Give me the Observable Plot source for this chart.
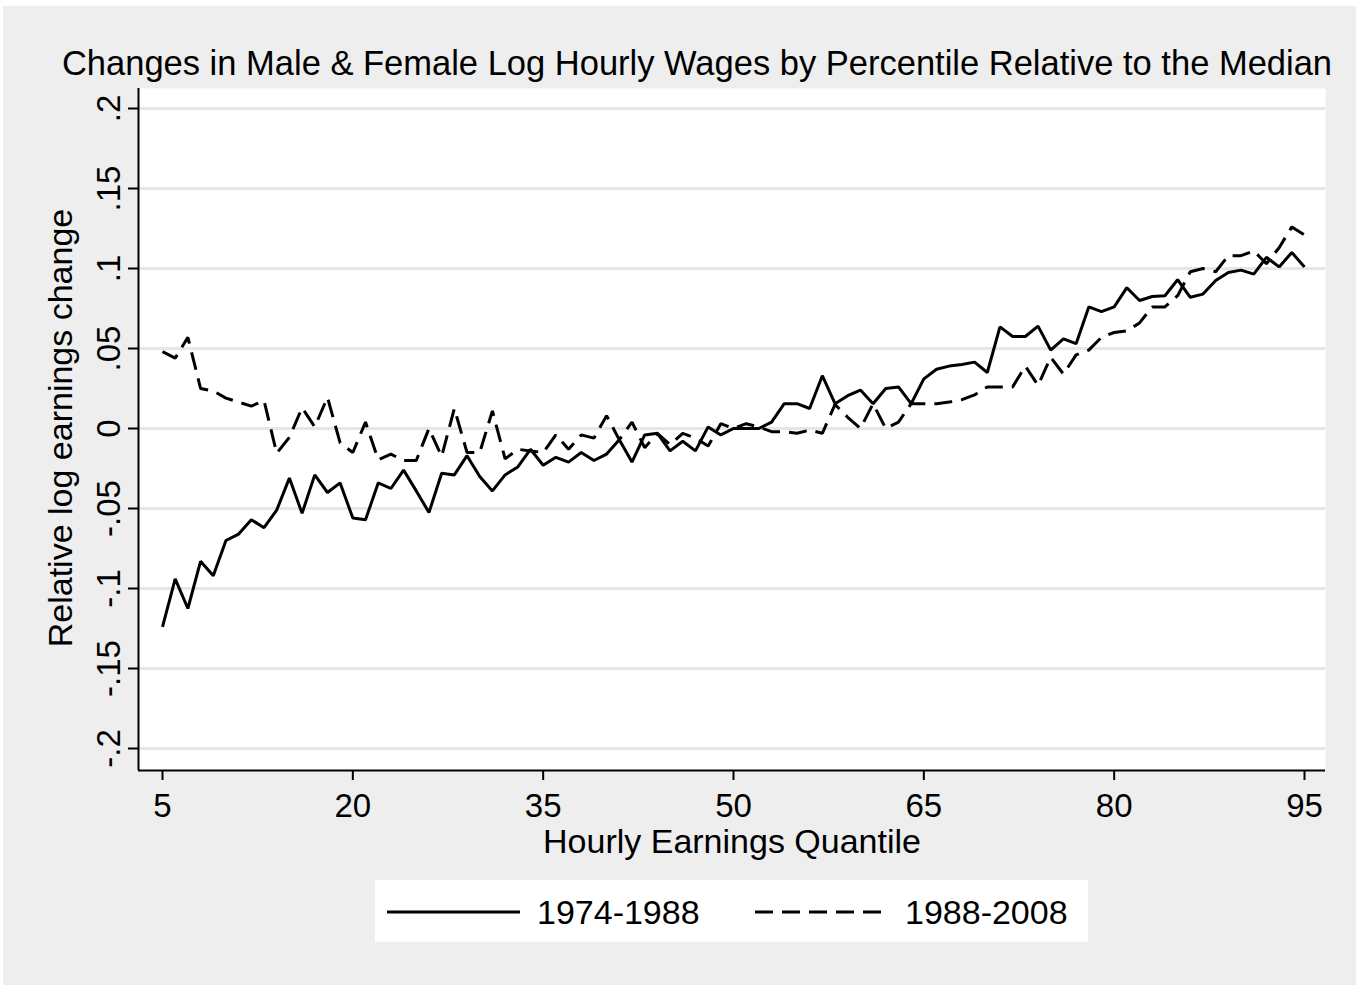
<!DOCTYPE html>
<html>
<head>
<meta charset="utf-8">
<script src="https://cdn.jsdelivr.net/npm/d3@7"></script>
<script src="https://cdn.jsdelivr.net/npm/@observablehq/plot@0.6"></script>
<style>
html,body{margin:0;padding:0;background:#fff;}
body{width:1359px;height:988px;position:relative;overflow:hidden;font-family:"Liberation Sans",Arial,Helvetica,sans-serif;}
#bg{position:absolute;left:3px;top:6px;width:1353px;height:979px;background:#eeeeee;}
#chart{position:absolute;left:0;top:0;}
.t{position:absolute;white-space:nowrap;color:#000;font-size:34px;line-height:34px;}
#legend{position:absolute;left:375px;top:880px;width:713px;height:62px;background:#fff;}
</style>
</head>
<body>
<div id="bg"></div>
<div id="chart"></div>
<div class="t" id="title" style="left:697px;top:46px;font-size:34.5px;transform:translateX(-50%);">Changes in Male &amp; Female Log Hourly Wages by Percentile Relative to the Median</div>
<div class="t" id="xtitle" style="left:732px;top:824px;transform:translateX(-50%);">Hourly Earnings Quantile</div>
<div class="t" id="ytitle" style="left:60px;top:428px;transform:translate(-50%,-50%) rotate(-90deg);">Relative log earnings change</div>
<div id="legend"></div>
<script>
// ---- data ----
const quantiles = [5,6,7,8,9,10,11,12,13,14,15,16,17,18,19,20,21,22,23,24,25,26,27,28,29,30,31,32,33,34,35,36,37,38,39,40,41,42,43,44,45,46,47,48,49,50,51,52,53,54,55,56,57,58,59,60,61,62,63,64,65,66,67,68,69,70,71,72,73,74,75,76,77,78,79,80,81,82,83,84,85,86,87,88,89,90,91,92,93,94,95];

const change1974_1988 = [
 -0.124,-0.094,-0.1125,-0.083,-0.092,-0.070,-0.066,-0.057,-0.062,-0.051,
 -0.031,-0.053,-0.029,-0.040,-0.034,-0.056,-0.057,-0.034,-0.0375,-0.026,
 -0.039,-0.0525,-0.028,-0.029,-0.017,-0.030,-0.039,-0.029,-0.024,-0.013,
 -0.023,-0.018,-0.021,-0.015,-0.020,-0.016,-0.007,-0.021,-0.004,-0.003,
 -0.014,-0.008,-0.014,0.001,-0.004,0.000,0.000,0.000,0.004,0.0155,
 0.0155,0.0125,0.033,0.0155,0.0205,0.024,0.0155,0.025,0.026,0.0155,
 0.031,0.037,0.039,0.040,0.0415,0.035,0.0635,0.0575,0.0575,0.064,
 0.049,0.056,0.053,0.076,0.073,0.076,0.088,0.080,0.0825,0.083,
 0.093,0.082,0.084,0.0925,0.0975,0.099,0.0965,0.107,0.101,0.110,
 0.101
];

const change1988_2008 = [
 0.048,0.044,0.057,0.025,0.0235,0.019,0.0165,0.014,0.0175,-0.0155,
 -0.0055,0.013,0.001,0.0195,-0.009,-0.015,0.004,-0.0195,-0.016,-0.020,
 -0.020,0.000,-0.0175,0.0125,-0.015,-0.015,0.011,-0.019,-0.013,-0.014,
 -0.015,-0.004,-0.013,-0.004,-0.006,0.008,-0.007,0.004,-0.012,-0.003,
 -0.010,-0.003,-0.006,-0.011,0.003,0.000,0.003,0.001,-0.002,-0.002,
 -0.003,-0.001,-0.003,0.015,0.007,0.000,0.0155,0.000,0.004,0.0155,
 0.0155,0.0155,0.0165,0.018,0.021,0.026,0.026,0.026,0.039,0.027,
 0.0445,0.034,0.046,0.049,0.057,0.060,0.061,0.066,0.076,0.076,
 0.083,0.098,0.100,0.098,0.108,0.108,0.111,0.103,0.113,0.126,
 0.121
];

const seriesNames = ["1974-1988", "1988-2008"];
const xTicks = [5, 20, 35, 50, 65, 80, 95];
const yTicks = [-0.2, -0.15, -0.1, -0.05, 0, 0.05, 0.1, 0.15, 0.2];

// ---- build ----
const rowsA = quantiles.map((q, i) => ({q, v: change1974_1988[i], s: seriesNames[0]}));
const rowsB = quantiles.map((q, i) => ({q, v: change1988_2008[i], s: seriesNames[1]}));

const fmt = d => d === 0 ? "0" : (d < 0 ? "-" : "") + String(Math.abs(d)).replace(/^0/, "");

const xDom = [5 - 24 / 12.689, 95 + 21 / 12.689];
const yDom = [-0.2 - 22 / 1600, 0.2 + 20 / 1600];
const FONT = "Liberation Sans, Arial, Helvetica, sans-serif";
const DASH = "18,9";

const chart = Plot.plot({
  width: 1359,
  height: 988,
  marginLeft: 138,
  marginRight: 34,
  marginTop: 88,
  marginBottom: 218,
  x: {domain: xDom},
  y: {domain: yDom},
  style: {background: "transparent", color: "#000", fontFamily: FONT},
  marks: [
    Plot.frame({fill: "white", stroke: null}),
    Plot.ruleY(yTicks, {stroke: "#e6e6e6", strokeWidth: 3}),
    Plot.line(rowsA, {x: "q", y: "v", stroke: "#000", strokeWidth: 3, strokeLinejoin: "miter", strokeLinecap: "butt"}),
    Plot.line(rowsB, {x: "q", y: "v", stroke: "#000", strokeWidth: 3, strokeDasharray: DASH, strokeLinejoin: "miter", strokeLinecap: "butt"}),
    Plot.ruleX([xDom[0]], {stroke: "#000", strokeWidth: 2}),
    Plot.ruleY([yDom[0]], {stroke: "#000", strokeWidth: 2}),
    Plot.axisX({ticks: xTicks, tickSize: 10, tickPadding: 13, fontSize: 33, label: null, tickFormat: d => String(d), strokeWidth: 2}),
    Plot.axisY({ticks: yTicks, tickSize: 10, tickPadding: 9, tickRotate: -90, fontSize: 33, label: null, tickFormat: fmt, strokeWidth: 2})
  ]
});
document.getElementById("chart").appendChild(chart);

// ---- legend ----
const lg = d3.select("#legend");
const lsvg = lg.append("svg").attr("width", 713).attr("height", 62).style("position", "absolute").style("left", "0px").style("top", "0px");
const items = [
  {name: seriesNames[0], x1: 12, x2: 145, tx: 162, dash: null},
  {name: seriesNames[1], x1: 380, x2: 510, tx: 530, dash: DASH}
];
items.forEach(it => {
  const l = lsvg.append("line").attr("x1", it.x1).attr("x2", it.x2).attr("y1", 32).attr("y2", 32)
    .attr("stroke", "#000").attr("stroke-width", 3);
  if (it.dash) l.attr("stroke-dasharray", it.dash);
  lsvg.append("text").attr("x", it.tx).attr("y", 44).attr("font-size", 34).attr("font-family", FONT).attr("fill", "#000").text(it.name);
});
</script>
</body>
</html>
